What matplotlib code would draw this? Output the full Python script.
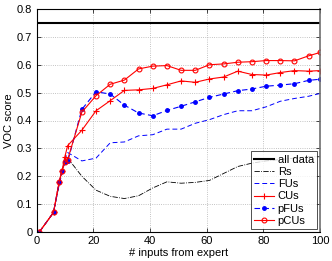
import matplotlib
matplotlib.use("Agg")
import matplotlib.pyplot as plt
import numpy as np

plt.rcParams['font.family'] = ['Liberation Sans', 'DejaVu Sans']

x = [1, 6, 8, 9, 10, 11, 16, 21, 26, 31, 36, 41, 46, 51, 56, 61, 66, 71, 76, 81, 86, 91, 96, 100]

all_data = 0.75
rs = [0, 0.07, 0.17, 0.22, 0.25, 0.265, 0.20, 0.15, 0.128, 0.12, 0.13, 0.158, 0.18, 0.175, 0.178,
      0.185, 0.21, 0.235, 0.247, 0.255, 0.26, 0.265, 0.27, 0.27]
fus = [0, 0.07, 0.17, 0.21, 0.26, 0.285, 0.255, 0.265, 0.32, 0.323, 0.345, 0.349, 0.369, 0.369,
       0.39, 0.403, 0.421, 0.435, 0.435, 0.449, 0.469, 0.479, 0.487, 0.497]
cus = [0, 0.07, 0.18, 0.22, 0.27, 0.31, 0.365, 0.435, 0.471, 0.508, 0.51, 0.515, 0.528, 0.542,
       0.537, 0.549, 0.556, 0.577, 0.565, 0.563, 0.572, 0.579, 0.577, 0.579]
pfus = [0, 0.07, 0.18, 0.22, 0.25, 0.253, 0.44, 0.503, 0.495, 0.455, 0.427, 0.417, 0.436, 0.451,
        0.467, 0.483, 0.495, 0.507, 0.513, 0.523, 0.527, 0.532, 0.544, 0.548]
pcus = [0, 0.07, 0.18, 0.22, 0.25, 0.26, 0.43, 0.489, 0.53, 0.545, 0.585, 0.595, 0.597, 0.58,
        0.58, 0.60, 0.603, 0.609, 0.611, 0.615, 0.615, 0.614, 0.632, 0.644]

fig = plt.figure(figsize=(3.32, 2.61), dpi=100)
ax = fig.add_axes([36.5 / 332, 1 - 232 / 261, (320 - 36.5) / 332, (232 - 9) / 261])

ax.axhline(all_data, color='black', lw=1.5, label='all data')
ax.plot(x, rs, color='black', lw=0.6, ls='-.', label='Rs')
ax.plot(x, fus, color='blue', lw=0.7, ls=(0, (5, 3)), label='FUs')
ax.plot(x, cus, color='red', lw=0.8, marker='+', ms=4, mew=0.8, label='CUs')
ax.plot(x, pfus, color='blue', lw=0.8, ls=(0, (5, 3)), marker='.', ms=5, label='pFUs')
ax.plot(x, pcus, color='red', lw=0.8, marker='o', ms=3.5, mfc='none', mew=0.8, label='pCUs')

ax.set_xlim(0, 100)
ax.set_ylim(0, 0.8)
ax.set_xticks([0, 20, 40, 60, 80, 100])
ax.set_xticklabels(['0', '20', '40', '60', '80', '100'])
ax.set_yticks([0, 0.1, 0.2, 0.3, 0.4, 0.5, 0.6, 0.7, 0.8])
ax.set_yticklabels(['0', '0.1', '0.2', '0.3', '0.4', '0.5', '0.6', '0.7', '0.8'])
ax.tick_params(direction='in', labelsize=8, length=3, width=0.5, pad=3, top=True, right=True)
ax.grid(True, ls=':', color='#b0b0b0', lw=0.6)
for s in ax.spines.values():
    s.set_linewidth(0.8)
ax.spines['right'].set_color('#707070')
ax.spines['right'].set_linewidth(1.2)

ax.set_xlabel('# inputs from expert', fontsize=8, labelpad=1)
ax.set_ylabel('VOC score', fontsize=8, labelpad=2)

leg = ax.legend(loc='lower right', fontsize=8, frameon=True, fancybox=False,
                edgecolor='black', borderpad=0.3, labelspacing=0.2, handlelength=1.8,
                handletextpad=0.3, borderaxespad=0.25)
leg.get_frame().set_linewidth(0.6)

fig.savefig('out.png', dpi=100)
